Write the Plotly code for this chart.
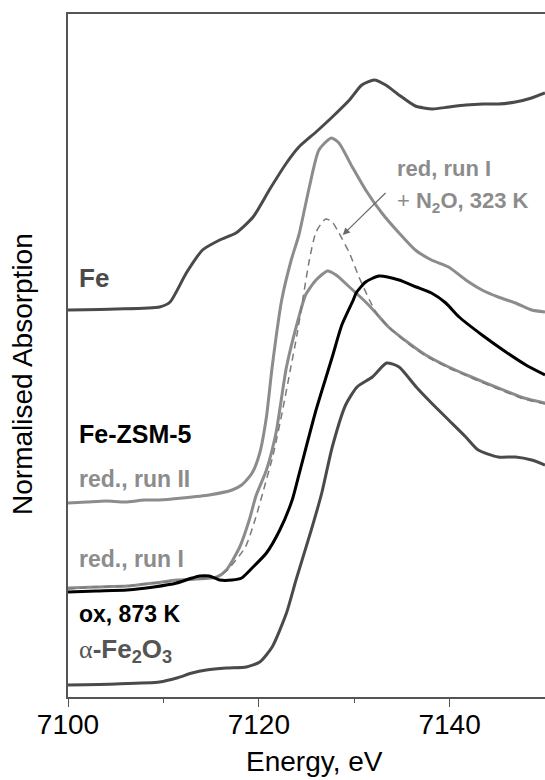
import plotly.graph_objects as go

# ---- data (energy in eV, normalised absorption incl. vertical offsets) ----
fe_E = [7100.0, 7105.0, 7109.6, 7110.7, 7112.4, 7114.1, 7115.9, 7117.6, 7119.4, 7121.1,
        7122.9, 7124.2, 7126.0, 7127.7, 7129.5, 7130.8, 7132.1, 7133.3, 7134.7, 7136.4,
        7138.2, 7139.9, 7141.7, 7143.5, 7145.1, 7146.9, 7148.6, 7150.0]
fe_A = [3.87, 3.88, 3.90, 3.95, 4.24, 4.47, 4.57, 4.64, 4.80, 5.07,
        5.34, 5.50, 5.65, 5.80, 5.97, 6.12, 6.17, 6.12, 6.02, 5.91,
        5.88, 5.90, 5.92, 5.93, 5.93, 5.95, 5.99, 6.04]

red2_E = [7100.0, 7102.0, 7104.0, 7106.0, 7108.0, 7109.6, 7112.0, 7114.8, 7117.2, 7118.2,
          7119.3, 7120.1, 7120.8, 7121.4, 7122.4, 7123.4, 7124.2, 7125.3, 7126.3, 7127.6,
          7128.4, 7129.8, 7131.2, 7132.9, 7134.7, 7136.4, 7138.1, 7139.9, 7141.7, 7143.4,
          7145.1, 7146.9, 7148.6, 7150.0]
red2_A = [1.94, 1.95, 1.96, 1.95, 1.97, 1.97, 1.99, 2.02, 2.07, 2.12,
          2.24, 2.44, 2.80, 3.30, 3.97, 4.37, 4.62, 5.10, 5.47, 5.59,
          5.54, 5.30, 5.07, 4.84, 4.64, 4.47, 4.37, 4.30, 4.17, 4.07,
          4.00, 3.94, 3.87, 3.85]

red1_E = [7100.0, 7103.0, 7106.2, 7109.0, 7111.4, 7113.5, 7115.6, 7116.6, 7118.0, 7119.0,
          7119.7, 7120.8, 7121.8, 7122.9, 7124.2, 7124.9, 7126.0, 7127.2, 7128.1, 7129.5,
          7131.2, 7132.0, 7133.6, 7135.7, 7137.5, 7139.9, 7142.3, 7145.1, 7147.8, 7150.0]
red1_A = [1.09, 1.10, 1.11, 1.14, 1.17, 1.18, 1.20, 1.27, 1.50, 1.77,
          2.01, 2.27, 2.64, 3.30, 3.80, 4.02, 4.17, 4.26, 4.22, 4.10,
          3.95, 3.87, 3.70, 3.54, 3.42, 3.30, 3.20, 3.09, 2.99, 2.94]

n2o_E = [7100.0, 7103.0, 7106.2, 7109.0, 7111.4, 7113.5, 7115.6, 7116.6, 7118.6, 7119.6,
         7120.5, 7121.5, 7122.5, 7123.3, 7124.0, 7124.6, 7125.3, 7126.0, 7127.0, 7127.7,
         7128.4, 7129.5, 7130.5, 7131.6, 7132.4, 7133.6, 7135.7, 7137.5, 7139.9, 7142.3,
         7145.1, 7147.8, 7150.0]
n2o_A = [1.08, 1.10, 1.11, 1.14, 1.16, 1.18, 1.20, 1.26, 1.50, 1.77,
         2.07, 2.42, 2.87, 3.27, 3.62, 3.97, 4.37, 4.65, 4.78, 4.75,
         4.64, 4.44, 4.20, 3.97, 3.83, 3.70, 3.53, 3.41, 3.29, 3.19,
         3.08, 2.98, 2.93]

ox_E = [7100.0, 7103.0, 7106.2, 7109.0, 7111.4, 7113.0, 7113.8, 7114.8, 7115.9, 7117.2,
        7118.2, 7119.3, 7120.8, 7122.2, 7123.5, 7124.2, 7126.0, 7127.7, 7128.7, 7129.9,
        7130.2, 7131.2, 7132.6, 7134.7, 7136.5, 7138.1, 7139.6, 7141.0, 7143.4, 7145.9,
        7148.0, 7150.0]
ox_A = [1.05, 1.06, 1.07, 1.10, 1.14, 1.19, 1.21, 1.21, 1.17, 1.17,
        1.19, 1.29, 1.44, 1.67, 1.97, 2.22, 2.87, 3.40, 3.72, 3.97,
        4.04, 4.15, 4.21, 4.17, 4.10, 4.04, 3.94, 3.80, 3.62, 3.45,
        3.32, 3.22]

fe2o3_E = [7100.0, 7105.0, 7109.6, 7111.4, 7113.0, 7114.5, 7116.6, 7118.7, 7120.1, 7121.4,
           7122.9, 7123.9, 7125.5, 7126.6, 7127.7, 7129.1, 7130.3, 7131.9, 7133.4, 7134.7,
           7136.5, 7138.1, 7139.9, 7141.7, 7143.0, 7145.1, 7146.9, 7148.6, 7150.0]
fe2o3_A = [0.12, 0.13, 0.15, 0.19, 0.24, 0.27, 0.29, 0.30, 0.35, 0.50,
           0.84, 1.17, 1.67, 2.04, 2.50, 2.92, 3.10, 3.20, 3.34, 3.30,
           3.10, 2.94, 2.77, 2.60, 2.47, 2.40, 2.40, 2.37, 2.32]

x_ticks = [7100, 7120, 7140]
x_tick_labels = ["7100", "7120", "7140"]

FONT = "Liberation Sans, Arial, sans-serif"
DARK = "#4a4a4a"
GRAY = "#8c8c8c"

fig = go.Figure()

def add(x, y, color, width, dash="solid"):
    fig.add_trace(go.Scatter(x=x, y=y, mode="lines",
                             line=dict(color=color, width=width, dash=dash,
                                       shape="spline", smoothing=0.6),
                             hoverinfo="skip", showlegend=False))

add(fe_E, fe_A, DARK, 3)
add(fe2o3_E, fe2o3_A, DARK, 3)
add(red1_E, red1_A, GRAY, 3)
add(n2o_E, n2o_A, "#7a7a7a", 1.5, dash="7px,5px")
add(red2_E, red2_A, GRAY, 3)
add(ox_E, ox_A, "#000000", 3)

def label(x, y, text, color, size, bold=True):
    t = f"<b>{text}</b>" if bold else text
    fig.add_annotation(x=x, y=y, xref="x", yref="y", text=t, showarrow=False,
                       xanchor="left", yanchor="middle",
                       font=dict(family=FONT, size=size, color=color))

label(7100.9, 4.19, "Fe", DARK, 26)
label(7100.9, 2.63, "Fe-ZSM-5", "#000000", 25)
label(7100.9, 2.185, "red., run II", GRAY, 23)
label(7100.9, 1.385, "red., run I", GRAY, 23)
label(7100.9, 0.835, "ox, 873 K", "#000000", 23)
fig.add_annotation(x=7100.9, y=0.47, xref="x", yref="y",
                   text="<span style='font-family:Liberation Serif'>α</span><b>-Fe<sub>2</sub>O<sub>3</sub></b>",
                   showarrow=False, xanchor="left", yanchor="middle",
                   font=dict(family=FONT, size=26, color="#555555"))

label(7134.3, 5.285, "red, run I", GRAY, 22)
fig.add_annotation(x=7134.3, y=4.95, xref="x", yref="y",
                   text="+ <b>N<sub>2</sub>O, 323 K</b>", showarrow=False,
                   xanchor="left", yanchor="middle",
                   font=dict(family=FONT, size=22, color=GRAY))

# arrow to the dashed curve
fig.add_annotation(x=7128.8, y=4.62, ax=7133.6, ay=5.07, xref="x", yref="y",
                   axref="x", ayref="y", text=" ", showarrow=True,
                   arrowhead=2, arrowsize=1.2, arrowwidth=1.2, arrowcolor="#6a6a6a",
                   font=dict(family=FONT, size=10))

# axis titles
fig.add_annotation(x=0.516, y=-0.1205, xref="paper", yref="paper", text="Energy, eV",
                   showarrow=False, xanchor="center", yanchor="bottom",
                   font=dict(family=FONT, size=28, color="#000000"))
fig.add_annotation(x=0, y=0.473, xref="paper", yref="paper", xshift=-45,
                   text="Normalised Absorption", textangle=-90,
                   showarrow=False, xanchor="center", yanchor="middle",
                   font=dict(family=FONT, size=28, color="#000000"))

fig.update_layout(
    width=545, height=780,
    margin=dict(l=68, r=0, t=14, b=83),
    paper_bgcolor="white", plot_bgcolor="white",
    hovermode=False,
    xaxis=dict(range=[7100, 7150], tickvals=x_ticks, ticktext=x_tick_labels,
               ticks="outside", ticklen=8, tickwidth=1.2, tickcolor="#555555",
               ticklabelstandoff=-6,
               minor=dict(dtick=10, tick0=7100, ticks="outside", ticklen=4,
                          tickwidth=1.2, tickcolor="#555555"),
               showline=True, linecolor="#555555", linewidth=1.5, mirror=True,
               showgrid=False, zeroline=False,
               tickfont=dict(family=FONT, size=28, color="#000000")),
    yaxis=dict(range=[0, 6.83], showticklabels=False, ticks="",
               showline=True, linecolor="#555555", linewidth=1.5,
               showgrid=False, zeroline=False),
)

fig.write_html("out.html")
